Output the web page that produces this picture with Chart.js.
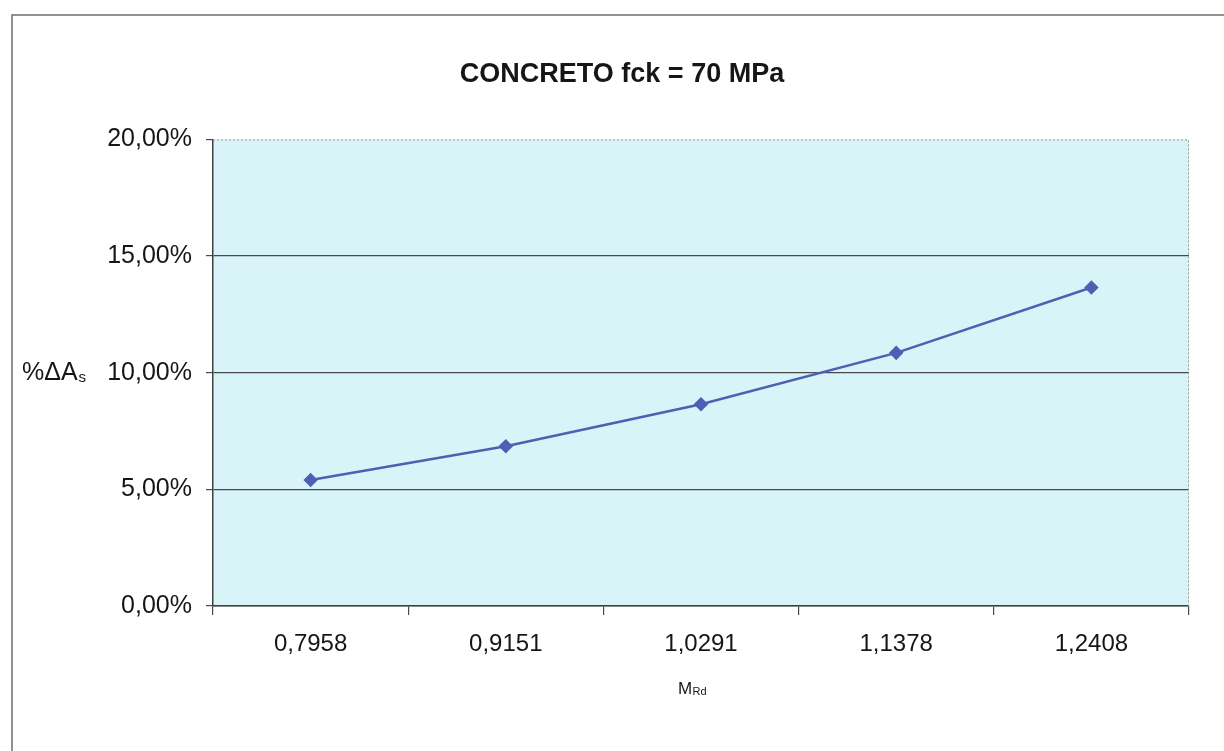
<!DOCTYPE html>
<html>
<head>
<meta charset="utf-8">
<script src="https://cdn.jsdelivr.net/npm/chart.js@4"></script>
<style>
  html, body { margin: 0; padding: 0; background: #ffffff; }
  #wrap { position: absolute; left: 0; top: 0; width: 1224px; height: 751px; }
</style>
</head>
<body>
<div id="wrap"><canvas id="chart" width="1224" height="751"></canvas></div>
<script>
// Moment values on the x axis and the relative change in steel area (%)
const categories = ['0,7958', '0,9151', '1,0291', '1,1378', '1,2408'];
const deltaAs = [5.40, 6.85, 8.65, 10.85, 13.65];
const yTickValues = [0, 5, 10, 15, 20];
const chartTitle = 'CONCRETO fck = 70 MPa';

const FONT = "'Liberation Sans', Arial, sans-serif";
const LINE_COLOR = '#4f5fb3';
const GRID_COLOR = '#4a4a4a';
const TEXT_COLOR = '#161616';

const fmtPct = v => v.toFixed(2).replace('.', ',') + '%';

// Outer frame, plot background and the dotted top/right edge of the plot area
const framePlugin = {
  id: 'frame',
  beforeDraw(chart) {
    const { ctx, chartArea: a } = chart;
    ctx.save();
    ctx.fillStyle = '#ffffff';
    ctx.fillRect(0, 0, chart.width, chart.height);
    ctx.strokeStyle = '#6e6e6e';
    ctx.lineWidth = 1.5;
    ctx.beginPath();
    ctx.moveTo(12, chart.height + 5);
    ctx.lineTo(12, 15);
    ctx.lineTo(chart.width + 5, 15);
    ctx.stroke();
    ctx.fillStyle = '#d8f4f9';
    ctx.fillRect(a.left, a.top, a.right - a.left, a.bottom - a.top);
    ctx.restore();
  },
  beforeDatasetsDraw(chart) {
    const { ctx, chartArea: a } = chart;
    ctx.save();
    ctx.strokeStyle = '#9a9a9a';
    ctx.lineWidth = 1;
    ctx.setLineDash([2, 2]);
    ctx.beginPath();
    ctx.moveTo(a.left, a.top + 0.5);
    ctx.lineTo(a.right - 0.5, a.top + 0.5);
    ctx.lineTo(a.right - 0.5, a.bottom);
    ctx.stroke();
    ctx.restore();
  }
};

// Axis captions with subscripts: %ΔAs on the left, MRd under the x axis
const captionPlugin = {
  id: 'captions',
  afterDraw(chart) {
    const { ctx, chartArea: a, scales } = chart;
    ctx.save();
    ctx.fillStyle = TEXT_COLOR;
    ctx.textBaseline = 'middle';
    ctx.textAlign = 'left';
    const yMid = scales.y.getPixelForValue(10);
    ctx.font = '25px ' + FONT;
    const main = '%\u0394A';
    const x0 = 22;
    ctx.fillText(main, x0, yMid);
    const w = ctx.measureText(main).width;
    ctx.font = '15px ' + FONT;
    ctx.fillText('s', x0 + w + 1, yMid + 5);

    const xc = (a.left + a.right) / 2 - 9;
    const yc = a.bottom + 83;
    ctx.font = '17px ' + FONT;
    const wm = ctx.measureText('M').width;
    ctx.font = '11px ' + FONT;
    const ws = ctx.measureText('Rd').width;
    const start = xc - (wm + ws) / 2;
    ctx.font = '17px ' + FONT;
    ctx.fillText('M', start, yc);
    ctx.font = '11px ' + FONT;
    ctx.fillText('Rd', start + wm + 0.5, yc + 3);
    ctx.restore();
  }
};

new Chart(document.getElementById('chart'), {
  type: 'line',
  data: {
    labels: categories,
    datasets: [{
      data: deltaAs,
      borderColor: LINE_COLOR,
      backgroundColor: LINE_COLOR,
      borderWidth: 2.5,
      pointStyle: 'rectRot',
      pointRadius: 5.5,
      pointHoverRadius: 5.5,
      tension: 0,
      fill: false
    }]
  },
  options: {
    responsive: false,
    animation: false,
    events: [],
    layout: { padding: { left: 55, right: 35, top: 20, bottom: 0 } },
    plugins: {
      legend: { display: false },
      tooltip: { enabled: false },
      title: {
        display: true,
        text: chartTitle,
        color: TEXT_COLOR,
        font: { family: FONT, size: 27, weight: 'bold' },
        padding: { top: 38, bottom: 49 }
      }
    },
    scales: {
      x: {
        type: 'category',
        offset: true,
        afterFit(scale) { scale.height = 145; },
        grid: {
          offset: true,
          drawOnChartArea: false,
          drawTicks: true,
          tickLength: 9,
          color: GRID_COLOR,
          lineWidth: 1.2
        },
        border: { display: true, color: '#3e3e3e', width: 1.5 },
        ticks: {
          color: TEXT_COLOR,
          padding: 15,
          maxRotation: 0,
          font: { family: FONT, size: 24 }
        }
      },
      y: {
        min: 0,
        max: 20,
        afterFit(scale) { scale.width = 158; },
        afterBuildTicks(scale) { scale.ticks = yTickValues.map(v => ({ value: v })); },
        grid: {
          color: ctx => (ctx.tick && ctx.tick.value === 20) ? 'rgba(0,0,0,0)' : GRID_COLOR,
          tickColor: GRID_COLOR,
          lineWidth: 1.2,
          drawTicks: true,
          tickLength: 7
        },
        border: { display: true, color: '#3e3e3e', width: 1.5 },
        ticks: {
          color: TEXT_COLOR,
          padding: 14,
          font: { family: FONT, size: 25 },
          callback: v => fmtPct(v)
        }
      }
    }
  },
  plugins: [framePlugin, captionPlugin]
});
</script>
</body>
</html>
